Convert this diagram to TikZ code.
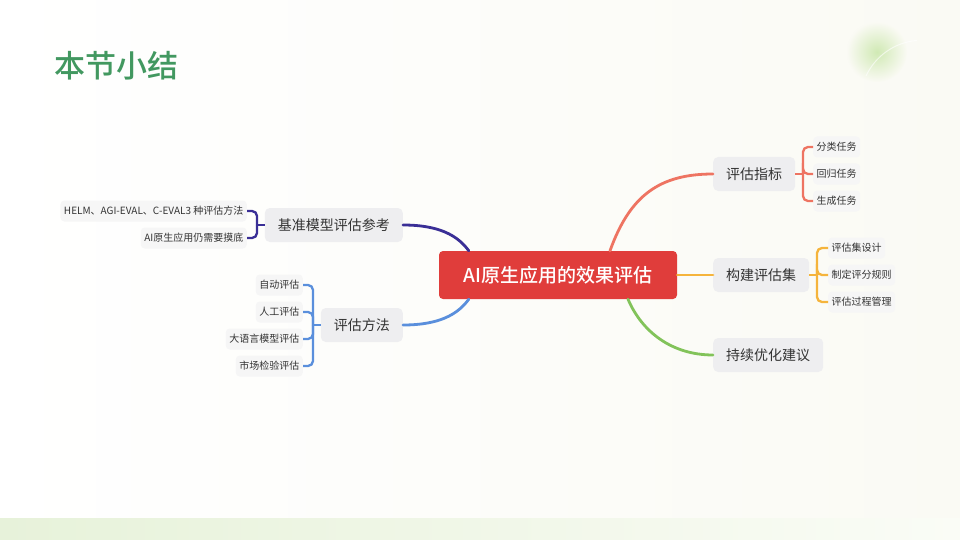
\documentclass[tikz,border=0pt]{standalone}
\usepackage{fontspec}
\setmainfont{Noto Sans CJK SC}
\newfontfamily\cjk{Noto Sans CJK SC}
\newfontfamily\cjkmed{Noto Sans CJK SC}[UprightFont=* Medium]
\usetikzlibrary{calc}
\definecolor{titlegreen}{RGB}{66,152,96}
\definecolor{cred}{RGB}{224,61,59}
\definecolor{csalmon}{RGB}{238,116,98}
\definecolor{corange}{RGB}{245,180,60}
\definecolor{cgreen}{RGB}{130,195,90}
\definecolor{cdblue}{RGB}{58,47,150}
\definecolor{cblue}{RGB}{90,143,220}
\definecolor{boxone}{RGB}{238,238,240}
\definecolor{boxtwo}{RGB}{246,246,246}
\definecolor{txt}{RGB}{51,51,51}
\definecolor{bgright}{RGB}{250,250,244}
\definecolor{stripl}{RGB}{231,242,218}
\definecolor{stripr}{RGB}{250,252,246}
\definecolor{dotgreen}{RGB}{208,233,180}
\tikzset{
  rootbox/.style={fill=cred,rounded corners=4pt,text=white,font=\cjkmed\fontsize{19}{19}\selectfont,minimum width=238pt,minimum height=48pt,inner sep=0pt},
  lvone/.style={fill=boxone,rounded corners=5pt,text=txt,font=\cjk\fontsize{14}{14}\selectfont,minimum height=34pt,inner xsep=13pt,inner ysep=0pt},
  lvtwo/.style={fill=boxtwo,rounded corners=4pt,text=txt,font=\cjk\fontsize{10}{10}\selectfont,minimum height=21pt,inner xsep=3.5pt,inner ysep=0pt},
  mainline/.style={line width=2.8pt,line cap=round},
  brline/.style={line width=2.3pt,rounded corners=5pt},
}
\begin{document}
\begin{tikzpicture}[x=1pt,y=-1pt]
\useasboundingbox (0,0) rectangle (960,540);
% background
\shade[left color=white,right color=bgright] (0,0) rectangle (960,540);
\shade[left color=stripl,right color=stripr] (0,518) rectangle (960,540);
\shade[inner color=dotgreen,outer color=bgright] (877,52) circle (30);
\draw[white,line width=1pt,opacity=0.6] (866,76) arc[start angle=205,end angle=265,radius=62];
% title
\node[anchor=west,text=titlegreen,font=\cjkmed\fontsize{31}{31}\selectfont,inner sep=0pt] (title) at (54,66) {本节小结};
% root
\node[rootbox] (root) at (558,275) {AI原生应用的效果评估};
% level one
\node[lvone,anchor=west] (zb) at (713,174) {评估指标};
\node[lvone,anchor=west] (gj) at (713,275) {构建评估集};
\node[lvone,anchor=west] (cx) at (713,355) {持续优化建议};
\node[lvone,anchor=east] (jz) at (403,225) {基准模型评估参考};
\node[lvone,anchor=east] (ff) at (403,325) {评估方法};
% level two right
\node[lvtwo,anchor=west] (zb1) at (813,147) {分类任务};
\node[lvtwo,anchor=west] (zb2) at (813,174) {回归任务};
\node[lvtwo,anchor=west] (zb3) at (813,201) {生成任务};
\node[lvtwo,anchor=west] (gj1) at (828,248) {评估集设计};
\node[lvtwo,anchor=west] (gj2) at (828,275) {制定评分规则};
\node[lvtwo,anchor=west] (gj3) at (828,302) {评估过程管理};
% level two left
\node[lvtwo,anchor=east] (jz1) at (247,211) {HELM、AGI-EVAL、C-EVAL3 种评估方法};
\node[lvtwo,anchor=east] (jz2) at (247,238) {AI原生应用仍需要摸底};
\node[lvtwo,anchor=east] (ff1) at (303,285) {自动评估};
\node[lvtwo,anchor=east] (ff2) at (303,312) {人工评估};
\node[lvtwo,anchor=east] (ff3) at (303,339) {大语言模型评估};
\node[lvtwo,anchor=east] (ff4) at (303,366) {市场检验评估};
% main connectors
\draw[mainline,csalmon] ($(root.north)+(52,0)$) .. controls (630,195) and (660,174) .. (zb.west);
\draw[mainline,corange] (root.east) -- (gj.west);
\draw[mainline,cgreen] ($(root.south)+(70,0)$) .. controls (642,332) and (672,355) .. (cx.west);
\draw[mainline,cdblue] (jz.east) .. controls (440,225) and (458,236) .. ($(root.north west)+(30,0)$);
\draw[mainline,cblue] (ff.east) .. controls (440,325) and (458,314) .. ($(root.south west)+(30,0)$);
% brackets
\coordinate (bzb) at (803,174);
\draw[brline,csalmon] (zb.east) -- (bzb);
\foreach \c in {zb1,zb2,zb3} \draw[brline,csalmon] (bzb) |- (\c.west);
\coordinate (bgj) at (817,275);
\draw[brline,corange] (gj.east) -- (bgj);
\foreach \c in {gj1,gj2,gj3} \draw[brline,corange] (bgj) |- (\c.west);
\coordinate (bjz) at (257,225);
\draw[brline,cdblue] (jz.west) -- (bjz);
\foreach \c in {jz1,jz2} \draw[brline,cdblue] (bjz) |- (\c.east);
\coordinate (bff) at (313,325);
\draw[brline,cblue] (ff.west) -- (bff);
\foreach \c in {ff1,ff2,ff3,ff4} \draw[brline,cblue] (bff) |- (\c.east);
\end{tikzpicture}
\end{document}
